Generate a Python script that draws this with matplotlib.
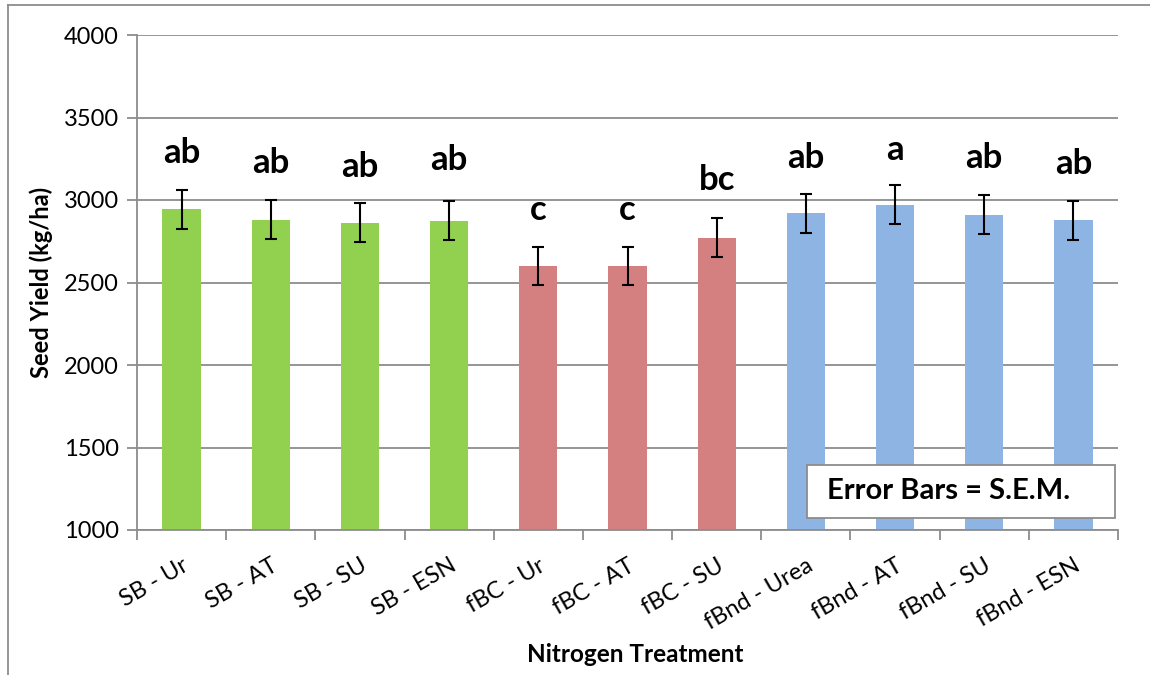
import matplotlib.pyplot as plt
from matplotlib.lines import Line2D
from matplotlib.patches import Rectangle

# values
treatments = ["SB - Ur", "SB - AT", "SB - SU", "SB - ESN",
              "fBC - Ur", "fBC - AT", "fBC - SU",
              "fBnd - Urea", "fBnd - AT", "fBnd - SU", "fBnd - ESN"]
yield_kg = [2945, 2880, 2862, 2875, 2600, 2600, 2772, 2920, 2970, 2910, 2876]
sem = [118, 118, 118, 118, 118, 118, 118, 118, 118, 118, 118]
letters = ["ab", "ab", "ab", "ab", "c", "c", "bc", "ab", "a", "ab", "ab"]
letter_y = [3225, 3162, 3142, 3182, 2878, 2878, 3061, 3193, 3243, 3193, 3156]
groups = ["SB"] * 4 + ["fBC"] * 3 + ["fBnd"] * 4

group_colors = {"SB": "#92D050", "fBC": "#D48080", "fBnd": "#8EB4E3"}
grey = "#8c8c8c"

plt.rcParams['font.family'] = ['Lato', 'DejaVu Sans']

fig = plt.figure(figsize=(11.5, 6.75), dpi=100)
ax = fig.add_axes([137 / 1150, 1 - 530 / 675, (1118 - 137) / 1150, (530 - 35) / 675])

x = list(range(len(treatments)))
colors = [group_colors[g] for g in groups]
ax.bar(x, [v - 1000 for v in yield_kg], bottom=1000, width=0.43, color=colors, zorder=2)
ax.errorbar(x, yield_kg, yerr=sem, fmt="none", ecolor="black", elinewidth=1.5,
            capsize=4.5, capthick=1.5, zorder=3)

for xi, lab, ly in zip(x, letters, letter_y):
    ax.text(xi, ly, lab, ha="center", va="baseline", fontsize=25, fontweight="bold")

ax.set_ylim(1000, 4000)
ax.set_xlim(-0.5, len(treatments) - 0.5)
ax.set_yticks(range(1000, 4001, 500))
ax.yaxis.grid(True, color=grey, linewidth=1.3, zorder=0)
ax.set_axisbelow(True)

ax.set_xticks(x)
ax.set_xticklabels(treatments, rotation=30, ha="right", rotation_mode="anchor", fontsize=17)
ax.set_xticks([i - 0.5 for i in range(len(treatments) + 1)], minor=True)
ax.tick_params(axis="x", which="major", length=0, pad=18)
ax.tick_params(axis="x", which="minor", length=7, color=grey, width=1.3)
ax.tick_params(axis="y", length=7, color=grey, width=1.3, labelsize=17, pad=6)

for s in ["top", "right"]:
    ax.spines[s].set_visible(False)
for s in ["left", "bottom"]:
    ax.spines[s].set_color(grey)
    ax.spines[s].set_linewidth(1.3)

ax.set_ylabel("Seed Yield (kg/ha)", fontsize=17, fontweight="bold", labelpad=8)
fig.text(635 / 1150, 1 - 655 / 675, "Nitrogen Treatment", ha="center", va="center",
         fontsize=17.5, fontweight="bold")

# legend-like note box
ax.add_patch(Rectangle((0.683, 0.024), 0.314, 0.107, transform=ax.transAxes,
                       facecolor="white", edgecolor=grey, linewidth=1.3, zorder=5))
ax.text(0.703, 0.078, "Error Bars = S.E.M.", transform=ax.transAxes, fontsize=21,
        fontweight="bold", va="center", ha="left", zorder=6)

# outer chart border (left and top edges visible)
fig.add_artist(Line2D([8 / 1150, 8 / 1150], [0, 1 - 5 / 675], color=grey, lw=1.3))
fig.add_artist(Line2D([8 / 1150, 1], [1 - 5 / 675, 1 - 5 / 675], color=grey, lw=1.3))

fig.savefig("out.png", dpi=100)
